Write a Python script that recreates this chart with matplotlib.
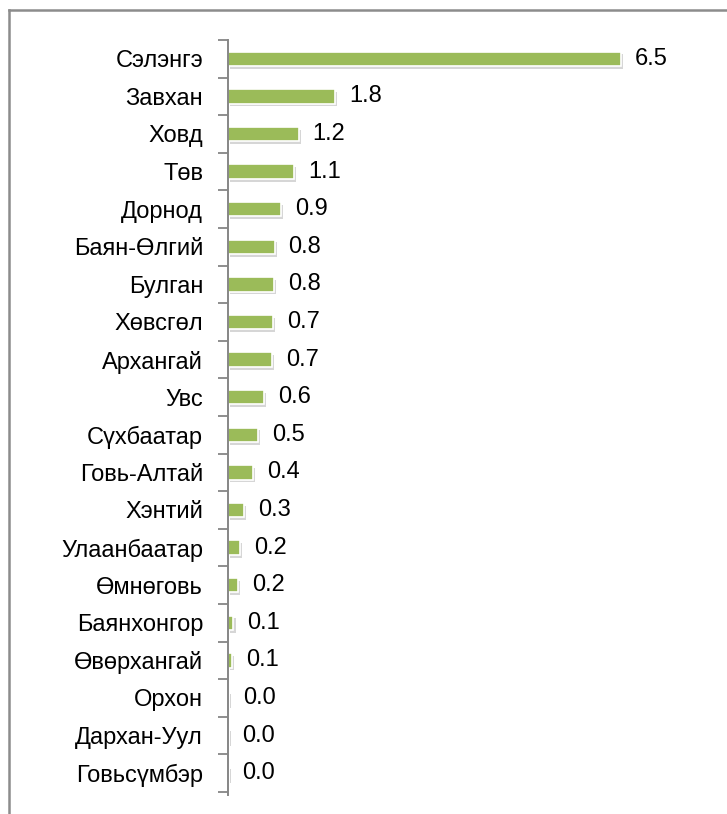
import matplotlib
matplotlib.use('Agg')
import matplotlib.pyplot as plt
import matplotlib.patheffects as pe
from matplotlib.lines import Line2D
import numpy as np

plt.rcParams['font.family'] = ['Liberation Sans', 'DejaVu Sans']

# аймгууд ба утгууд
aimag = ['Сэлэнгэ', 'Завхан', 'Ховд', 'Төв', 'Дорнод', 'Баян-Өлгий', 'Булган',
         'Хөвсгөл', 'Архангай', 'Увс', 'Сүхбаатар', 'Говь-Алтай', 'Хэнтий',
         'Улаанбаатар', 'Өмнөговь', 'Баянхонгор', 'Өвөрхангай', 'Орхон',
         'Дархан-Уул', 'Говьсүмбэр']
utga = [6.5, 1.77, 1.17, 1.09, 0.88, 0.77, 0.76, 0.74, 0.73, 0.6, 0.5, 0.41,
        0.27, 0.2, 0.17, 0.09, 0.07, 0.02, 0.01, 0.01]

fig = plt.figure(figsize=(7.27, 8.14), dpi=100)
ax = fig.add_axes([228/727, 1-795/814, (700-228)/727, (795-40)/814])

y = np.arange(len(aimag))
bars = ax.barh(y, utga, height=0.38, color='#9BBB59', edgecolor='white', linewidth=1.2,
               path_effects=[pe.SimplePatchShadow(offset=(1.5, -2), shadow_rgbFace='#999999', alpha=0.4),
                             pe.Normal()])

for yi, v in zip(y, utga):
    ax.annotate('%.1f' % v, (v, yi), xytext=(10, 0), textcoords='offset points',
                va='center', ha='left', fontsize=17, color='black')

ax.set_xlim(0, 7.8)
ax.set_ylim(len(aimag) - 0.42, -0.5)
ax.set_yticks(y)
ax.set_yticklabels(aimag, fontsize=17)
ax.set_yticks(np.arange(len(aimag) + 1) - 0.5, minor=True)
ax.tick_params(axis='y', which='major', length=0, pad=18)
ax.tick_params(axis='y', which='minor', length=7, width=1.3, color='#868686', direction='out')
ax.set_xticks([])
for s in ['top', 'right', 'bottom']:
    ax.spines[s].set_visible(False)
ax.spines['left'].set_color('#868686')
ax.spines['left'].set_linewidth(1.4)

# рамка
fx = 9/727
fy = 1 - 10/814
fig.add_artist(Line2D([fx, 1], [fy, fy], color='#8c8c8c', lw=1.8, transform=fig.transFigure))
fig.add_artist(Line2D([fx, fx], [fy, 0], color='#8c8c8c', lw=1.8, transform=fig.transFigure))

fig.savefig('out.png', dpi=100, facecolor='white')
